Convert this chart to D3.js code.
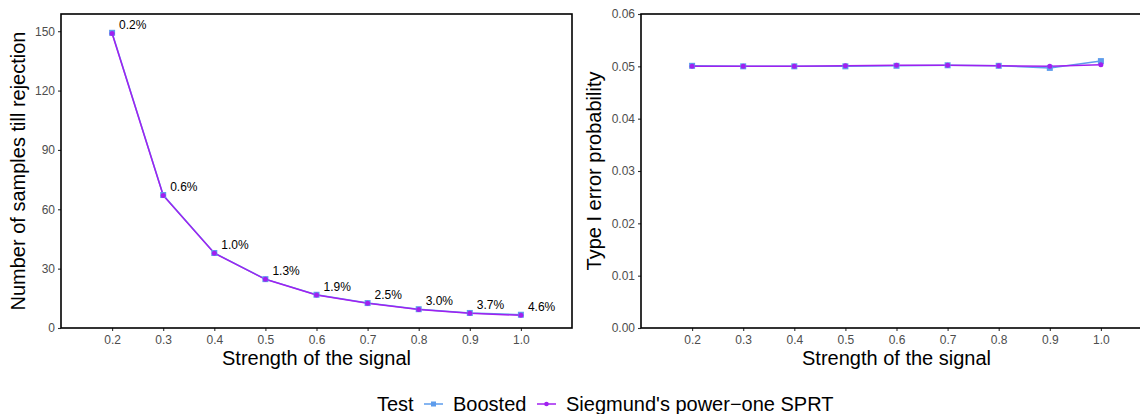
<!DOCTYPE html>
<html><head><meta charset="utf-8">
<script src="https://cdn.jsdelivr.net/npm/d3@7"></script>
<style>body{margin:0;background:#fff}svg{display:block}text{font-family:"Liberation Sans",Arial,sans-serif}</style>
</head><body><svg id="c" width="1140" height="414"></svg>
<script>
const strengths = [0.2,0.3,0.4,0.5,0.6,0.7,0.8,0.9,1.0];
const xTicks = [0.2,0.3,0.4,0.5,0.6,0.7,0.8,0.9,1.0];
const samplesBoosted = [149.2,67.2,37.9,24.7,16.8,12.6,9.5,7.6,6.7];
const samplesSiegmund = [148.8,67.0,37.8,24.6,16.7,12.5,9.4,7.4,6.4];
const pctLabels = ["0.2%","0.6%","1.0%","1.3%","1.9%","2.5%","3.0%","3.7%","4.6%"];
const errBoosted = [0.0501,0.0500,0.0500,0.0500,0.0501,0.0502,0.0501,0.0497,0.0510];
const errSiegmund = [0.0500,0.0500,0.0500,0.0501,0.0502,0.0502,0.0501,0.0500,0.0503];
const leftYTicks = [0,30,60,90,120,150];
const rightYTicks = [0,0.01,0.02,0.03,0.04,0.05,0.06];
const seriesNames = ["Boosted","Siegmund's power\u2212one SPRT"];
const colors = ["#5D9CEC","#A020F0"];

const svg = d3.select("#c");
const TITLE = "20px";

function panel(opts){
  const g = svg.append("g");
  const x = d3.scaleLinear().domain([0.1,1.1]).range([opts.x0, opts.x1]);
  const y = d3.scaleLinear().domain(opts.ydom).range([opts.y1, opts.y0]);
  const xa = g.append("g").attr("transform",`translate(0,${opts.y1})`)
    .call(d3.axisBottom(x).tickValues(xTicks).tickFormat(d3.format(".1f")).tickSize(3).tickPadding(4));
  xa.select(".domain").remove();
  const ya = g.append("g").attr("transform",`translate(${opts.x0},0)`)
    .call(d3.axisLeft(y).tickValues(opts.yticks).tickFormat(opts.yfmt).tickSize(3).tickPadding(3));
  ya.select(".domain").remove();
  g.selectAll(".tick line").attr("stroke","#333").attr("stroke-width",1.1);
  g.selectAll(".tick text").attr("fill","#4D4D4D").style("font-size","12px");
  g.append("rect").attr("x",opts.x0).attr("y",opts.y0)
    .attr("width",opts.x1-opts.x0).attr("height",opts.y1-opts.y0)
    .attr("fill","none").attr("stroke","#000").attr("stroke-width",1.6);
  g.append("text").attr("x",(opts.x0+opts.x1)/2).attr("y",365).attr("text-anchor","middle")
    .style("font-size",TITLE).attr("fill","#000").text("Strength of the signal");
  g.append("text").attr("transform",`translate(${opts.ytx},${(opts.y0+opts.y1)/2}) rotate(-90)`)
    .attr("text-anchor","middle").style("font-size",TITLE).attr("fill","#000").text(opts.ytitle);
  const line = d3.line().x((d,i)=>x(strengths[i])).y(d=>y(d));
  const data = opts.series;
  data.forEach((s,k)=>{
    g.append("path").datum(s).attr("d",line).attr("fill","none")
      .attr("stroke",colors[k]).attr("stroke-width",1.5);
  });
  g.selectAll(".sq").data(data[0]).enter().append("rect")
    .attr("x",(d,i)=>x(strengths[i])-3).attr("y",d=>y(d)-3)
    .attr("width",6).attr("height",6).attr("fill",colors[0]);
  g.selectAll(".ci").data(data[1]).enter().append("circle")
    .attr("cx",(d,i)=>x(strengths[i])).attr("cy",d=>y(d)).attr("r",2.5).attr("fill",colors[1]);
  return {g,x,y};
}

const L = panel({x0:61,x1:572,y0:14,y1:328,ydom:[0,158.7],yticks:leftYTicks,yfmt:d3.format("d"),
  ytx:25,ytitle:"Number of samples till rejection",series:[samplesBoosted,samplesSiegmund]});
L.g.selectAll(".lab").data(pctLabels).enter().append("text")
  .attr("x",(d,i)=>L.x(strengths[i])+7).attr("y",(d,i)=>L.y(samplesBoosted[i])-4)
  .style("font-size","12px").attr("fill","#000").text(d=>d);

panel({x0:641,x1:1152,y0:14,y1:328,ydom:[0,0.06],yticks:rightYTicks,yfmt:d3.format(".2f"),
  ytx:601,ytitle:"Type I error probability",series:[errBoosted,errSiegmund]});

const lg = svg.append("g");
lg.append("text").attr("x",377).attr("y",411).style("font-size",TITLE).text("Test");
const keyX = [424,537];
const labX = [453,566];
seriesNames.forEach((n,k)=>{
  lg.append("line").attr("x1",keyX[k]).attr("x2",keyX[k]+19).attr("y1",404).attr("y2",404)
    .attr("stroke",colors[k]).attr("stroke-width",1.5);
  if(k===0) lg.append("rect").attr("x",keyX[k]+9.5-2.5).attr("y",401.5).attr("width",5).attr("height",5).attr("fill",colors[k]);
  else lg.append("circle").attr("cx",keyX[k]+9.5).attr("cy",404).attr("r",2.3).attr("fill",colors[k]);
  lg.append("text").attr("x",labX[k]).attr("y",411).style("font-size",TITLE).text(n);
});
</script></body></html>
